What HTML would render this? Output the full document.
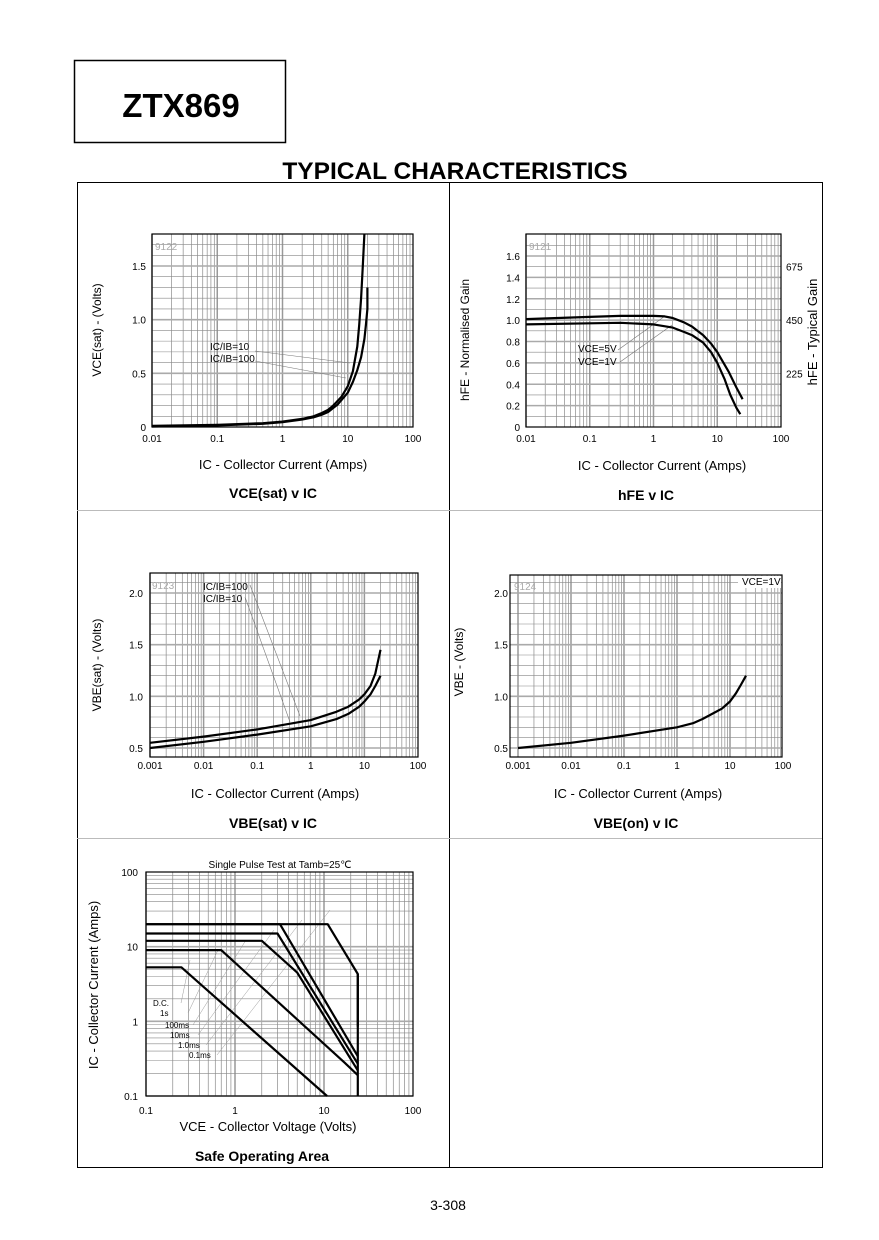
<!DOCTYPE html>
<html><head><meta charset="utf-8"><style>
body{margin:0;background:#fff;width:879px;height:1240px;overflow:hidden;font-family:"Liberation Sans",sans-serif}
svg{position:absolute;left:0;top:0}
</style></head><body>
<svg id="s" width="879" height="1240" xmlns="http://www.w3.org/2000/svg" font-family="Liberation Sans, sans-serif">
<rect x="74.5" y="60.5" width="211" height="82" fill="none" stroke="#000" stroke-width="1.5"/>
<text x="181" y="117" font-size="33" font-weight="bold" text-anchor="middle">ZTX869</text>
<text x="455" y="179" font-size="24.5" font-weight="bold" text-anchor="middle">TYPICAL CHARACTERISTICS</text>
<g stroke="#000" stroke-width="1" fill="none">
<rect x="77.5" y="182.5" width="745" height="985"/>
<line x1="449.5" y1="182" x2="449.5" y2="1167"/>
<line x1="77" y1="510.5" x2="822" y2="510.5" stroke="#bbb"/>
<line x1="77" y1="838.5" x2="822" y2="838.5" stroke="#bbb"/>
</g>
<text x="448" y="1210" font-size="14" text-anchor="middle">3-308</text>
<g id="g"></g>
</svg>
<script>
// Chart 1: VCE(sat) v IC
const c1Ic10X=[0.01,0.1,0.5,1,2,3,4,5,6,8,10,12,14,15,16,17,18];
const c1Ic10Y=[0.01,0.02,0.035,0.05,0.075,0.1,0.13,0.16,0.2,0.28,0.38,0.52,0.75,0.95,1.2,1.5,1.8];
const c1Ic100X=[0.01,0.1,0.5,1,2,3,4,5,7,10,12,14,16,18,19,20,20];
const c1Ic100Y=[0.005,0.015,0.03,0.045,0.07,0.09,0.115,0.14,0.21,0.32,0.42,0.53,0.65,0.82,0.95,1.1,1.3];
const c1YTicks=[0,0.5,1.0,1.5];
const c1XTicks=[0.01,0.1,1,10,100];
// Chart 2: hFE v IC
const c2V5X=[0.01,0.1,0.3,1,1.5,2,3,4,6,8,10,15,20,25];
const c2V5Y=[1.01,1.03,1.04,1.04,1.035,1.02,0.98,0.94,0.86,0.78,0.7,0.52,0.37,0.26];
const c2V1X=[0.01,0.1,0.3,1,2,3,4,6,8,10,13,16,20,23];
const c2V1Y=[0.96,0.97,0.975,0.96,0.93,0.89,0.86,0.79,0.7,0.6,0.45,0.3,0.18,0.12];
const c2YTicks=[0,0.2,0.4,0.6,0.8,1.0,1.2,1.4,1.6];
const c2RightTicks=[225,450,675];
// Chart 3: VBE(sat) v IC
const c3Ic100X=[0.001,0.01,0.1,1,3,5,8,10,13,16,20];
const c3Ic100Y=[0.55,0.61,0.68,0.77,0.85,0.9,0.97,1.02,1.1,1.22,1.45];
const c3Ic10X=[0.001,0.01,0.1,1,3,5,8,10,13,16,20];
const c3Ic10Y=[0.5,0.56,0.63,0.71,0.78,0.83,0.9,0.95,1.02,1.1,1.2];
const c34YTicks=[0.5,1.0,1.5,2.0];
const c34XTicks=[0.001,0.01,0.1,1,10,100];
// Chart 4: VBE(on) v IC
const c4X=[0.001,0.01,0.1,1,2,3,5,7,10,13,16,20];
const c4Y=[0.5,0.55,0.62,0.7,0.74,0.78,0.84,0.88,0.95,1.03,1.11,1.2];
// Chart 5: SOA
const soaDcX=[0.1,0.25,10.8];
const soaDcY=[5.3,5.3,0.1];
const soa1sX=[0.1,0.7,17,24];
const soa1sY=[9,9,0.28,0.19];
const soa100X=[0.1,2,5,24];
const soa100Y=[12,12,4.5,0.22];
const soa10X=[0.1,3,24];
const soa10Y=[15,15,0.27];
const soa1X=[0.1,3.2,24];
const soa1Y=[20,20,0.34];
const soa01X=[0.1,11,24,24];
const soa01Y=[20,20,4.3,0.85];
const soaLimX=[24,24];
const soaLimY=[4.3,0.1];
const soaYTicks=[0.1,1,10,100];
const soaXTicks=[0.1,1,10,100];

const G=document.getElementById('g');
const NS='http://www.w3.org/2000/svg';
function mk(tag,a,parent){const e=document.createElementNS(NS,tag);for(const k in a)e.setAttribute(k,a[k]);(parent||G).appendChild(e);return e;}
function txt(x,y,s,size,anchor,extra){const e=mk('text',Object.assign({x:x,y:y,'font-size':size||10,'text-anchor':anchor||'middle'},extra||{}));e.textContent=s;return e;}
function logAx(x0,x1,lo,hi){const a=Math.log10(lo),b=Math.log10(hi);return v=>x0+(Math.log10(v)-a)/(b-a)*(x1-x0);}
function linAx(y0,y1,lo,hi){return v=>y0+(v-lo)/(hi-lo)*(y1-y0);}
function plotLine(xs,ys,fx,fy,name){let d='';for(let i=0;i<xs.length;i++)d+=(i?'L':'M')+fx(xs[i]).toFixed(1)+','+fy(ys[i]).toFixed(1);
 const p=mk('path',{d:d,fill:'none',stroke:'#000','stroke-width':2.2,'stroke-linejoin':'round'});
 
 }
function frame(L,T,R,B,fx,xlo,xhi,yLines,name){
 const g=mk('g',{});
 
 
 for(let d=xlo;d<xhi;d*=10)for(let m=1;m<10;m++){const x=fx(d*m);mk('line',{x1:x,y1:T,x2:x,y2:B,stroke:m==1?'#999':'#777','stroke-width':m==1?1.5:0.6},g);}
 yLines.forEach(l=>mk('line',{x1:L,y1:l[0],x2:R,y2:l[0],stroke:l[1]?'#aaa':'#888','stroke-width':l[1]?1.6:0.6},g));
 mk('rect',{x:L,y:T,width:R-L,height:B-T,fill:'none',stroke:'#000','stroke-width':1.2},g);}

// ---- Chart 1
{const fx=logAx(152,413,0.01,100),fy=linAx(427,266,0,1.5);const yl=[];for(let v=0.1;v<1.8;v+=0.1)yl.push([fy(v),Math.abs(v*2-Math.round(v*2))<0.01]);
frame(152,234,413,427,fx,0.01,100,yl,'vcesat-grid');
c1YTicks.forEach(v=>txt(146,fy(v)+4,v==0?'0':v.toFixed(1),10,'end'));
c1XTicks.forEach(v=>txt(fx(v),442,String(v),10));
txt(155,250,'9122',10,'start',{fill:'#aaa'});
mk('line',{x1:255,y1:351,x2:350,y2:363,stroke:'#777','stroke-width':0.6});mk('line',{x1:255,y1:361,x2:346,y2:378,stroke:'#777','stroke-width':0.6});
txt(210,350,'IC/IB=10',10,'start');txt(210,362,'IC/IB=100',10,'start');
plotLine(c1Ic10X,c1Ic10Y,fx,fy,'curve-ic-ib-10');plotLine(c1Ic100X,c1Ic100Y,fx,fy,'curve-ic-ib-100');
txt(0,0,'VCE(sat) - (Volts)',12,'middle',{transform:'translate(101,330) rotate(-90)'});
txt(283,469,'IC - Collector Current (Amps)',13);txt(273,498,'VCE(sat) v IC',14,'middle',{'font-weight':'bold'});}

// ---- Chart 2
{const fx=logAx(526,781,0.01,100),fy=linAx(427,256,0,1.6);const yl=[];for(let v=0.1;v<1.8;v+=0.1)yl.push([fy(v),Math.abs(v*5-Math.round(v*5))<0.01]);
frame(526,234,781,427,fx,0.01,100,yl,'hfe-grid');
c2YTicks.forEach(v=>txt(520,fy(v)+4,v==0?'0':v.toFixed(1),10,'end'));
c1XTicks.forEach(v=>txt(fx(v),442,String(v),10));
c2RightTicks.forEach(v=>txt(786,fy(v/450)+4,String(v),10,'start'));
txt(529,250,'9121',10,'start',{fill:'#aaa'});
mk('line',{x1:618,y1:350,x2:665,y2:316,stroke:'#777','stroke-width':0.6});mk('line',{x1:620,y1:362,x2:672,y2:325,stroke:'#777','stroke-width':0.6});
txt(578,352,'VCE=5V',10,'start');txt(578,365,'VCE=1V',10,'start');
plotLine(c2V5X,c2V5Y,fx,fy,'curve-vce-5v');plotLine(c2V1X,c2V1Y,fx,fy,'curve-vce-1v');
txt(0,0,'hFE - Normalised Gain',12,'middle',{transform:'translate(469,340) rotate(-90)'});
txt(0,0,'hFE - Typical Gain',13,'middle',{transform:'translate(817,332) rotate(-90)'});
txt(662,470,'IC - Collector Current (Amps)',13);txt(646,500,'hFE v IC',14,'middle',{'font-weight':'bold'});}

// ---- Chart 3
{const fx=logAx(150,418,0.001,100),fy=linAx(748,593,0.5,2.0);const yl=[];for(let v=0.5;v<2.2;v+=0.1)yl.push([fy(v),Math.abs(v*2-Math.round(v*2))<0.01]);
frame(150,573,418,757,fx,0.001,100,yl,'vbesat-grid');
c34YTicks.forEach(v=>txt(143,fy(v)+4,v.toFixed(1),10,'end'));
c34XTicks.forEach(v=>txt(fx(v),769,String(v),10));
txt(152,589,'9123',10,'start',{fill:'#aaa'});
mk('line',{x1:250,y1:585,x2:300,y2:716,stroke:'#777','stroke-width':0.6});mk('line',{x1:245,y1:597,x2:290,y2:722,stroke:'#777','stroke-width':0.6});
txt(203,590,'IC/IB=100',10,'start');txt(203,602,'IC/IB=10',10,'start');
plotLine(c3Ic100X,c3Ic100Y,fx,fy,'curve-ic-ib-100');plotLine(c3Ic10X,c3Ic10Y,fx,fy,'curve-ic-ib-10');
txt(0,0,'VBE(sat) - (Volts)',12,'middle',{transform:'translate(101,665) rotate(-90)'});
txt(275,798,'IC - Collector Current (Amps)',13);txt(273,828,'VBE(sat) v IC',14,'middle',{'font-weight':'bold'});}

// ---- Chart 4
{const fx=logAx(518,783,0.001,100),fy=linAx(748,593,0.5,2.0);const yl=[];for(let v=0.5;v<2.2;v+=0.1)yl.push([fy(v),Math.abs(v*2-Math.round(v*2))<0.01]);
frame(510,575,782,757,fx,0.001,100,yl,'vbeon-grid');
c34YTicks.forEach(v=>txt(508,fy(v)+4,v.toFixed(1),10,'end'));
c34XTicks.forEach(v=>txt(fx(v),769,String(v),10));
txt(514,590,'9124',10,'start',{fill:'#aaa'});
mk('rect',{x:738,y:576,width:43,height:12,fill:'#fff'});txt(742,585,'VCE=1V',10,'start');
plotLine(c4X,c4Y,fx,fy,'curve-vbe-on');
txt(0,0,'VBE - (Volts)',12,'middle',{transform:'translate(463,662) rotate(-90)'});
txt(638,798,'IC - Collector Current (Amps)',13);txt(636,828,'VBE(on) v IC',14,'middle',{'font-weight':'bold'});}

// ---- Chart 5 SOA
{const fx=logAx(146,413,0.1,100),fy=logAx(1096,872,0.1,100);const yl=[];
for(let d=0.1;d<100;d*=10)for(let m=1;m<10;m++)yl.push([fy(d*m),m==1]);
frame(146,872,413,1096,fx,0.1,100,yl,'soa-grid');
soaYTicks.forEach(v=>txt(138,fy(v)+4,String(v),10,'end'));
soaXTicks.forEach(v=>txt(fx(v),1114,String(v),10));
mk('rect',{x:200,y:858,width:160,height:13,fill:'#fff'});
txt(280,868,'Single Pulse Test at Tamb=25℃',10);
const lab=[['D.C.',153,1006],['1s',160,1016],['100ms',165,1028],['10ms',170,1038],['1.0ms',178,1048],['0.1ms',189,1058]];
lab.forEach((l,i)=>{mk('line',{x1:l[1]+28,y1:l[2]-3,x2:190+i*28,y2:960-i*10,stroke:'#999','stroke-width':0.5});txt(l[1],l[2],l[0],8,'start');});
plotLine(soaDcX,soaDcY,fx,fy,'soa-dc');plotLine(soa1sX,soa1sY,fx,fy,'soa-1s');plotLine(soa100X,soa100Y,fx,fy,'soa-100ms');
plotLine(soa10X,soa10Y,fx,fy,'soa-10ms');plotLine(soa1X,soa1Y,fx,fy,'soa-1ms');plotLine(soa01X,soa01Y,fx,fy,'soa-0-1ms');plotLine(soaLimX,soaLimY,fx,fy,'soa-voltage-limit');
txt(0,0,'IC - Collector Current (Amps)',13,'middle',{transform:'translate(98,985) rotate(-90)'});
txt(268,1131,'VCE - Collector Voltage (Volts)',13);txt(262,1161,'Safe Operating Area',14,'middle',{'font-weight':'bold'});}
</script>
</body></html>
